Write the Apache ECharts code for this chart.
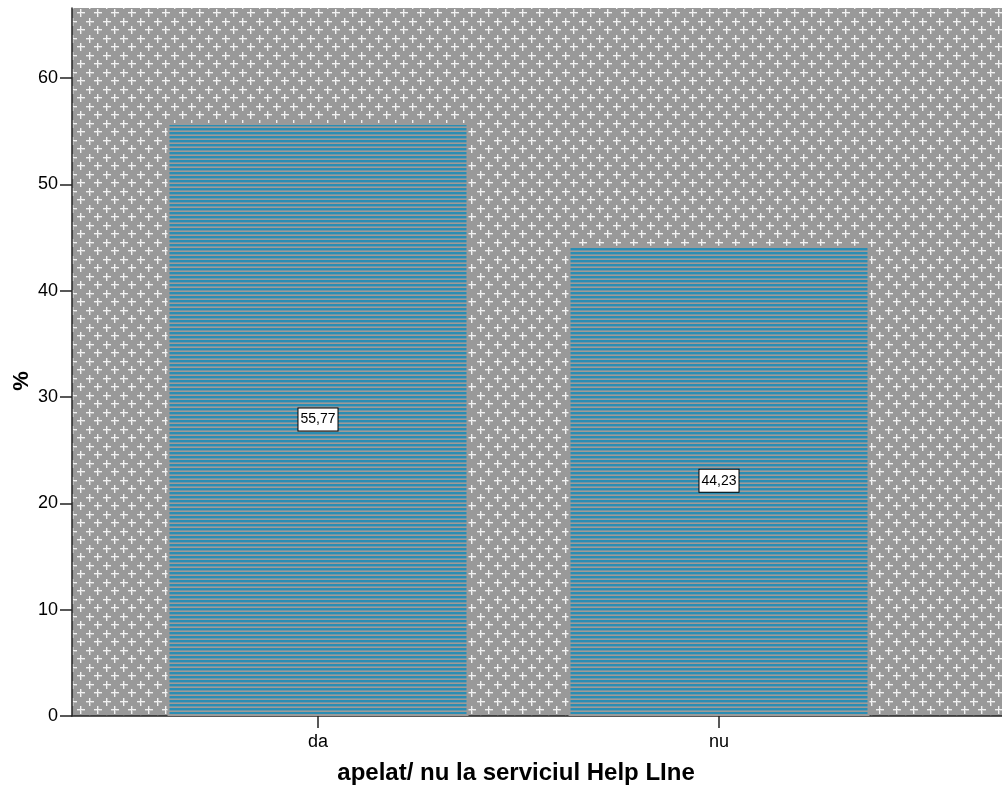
<!DOCTYPE html>
<html>
<head>
<meta charset="utf-8">
<script src="https://cdn.jsdelivr.net/npm/echarts@6/dist/echarts.min.js"></script>
<style>
html,body{margin:0;padding:0;background:#fff;}
#chart{width:1002px;height:791px;}
</style>
</head>
<body>
<div id="chart"></div>
<script>
// ---- data ----
var categories = ['da', 'nu'];
var percentValues = [55.77, 44.23];
var yTickValues = [0, 10, 20, 30, 40, 50, 60];
var xAxisTitle = 'apelat/ nu la serviciul Help LIne';
var yAxisTitle = '%';

// ---- patterns ----
function makeBgPattern() {
  var c = document.createElement('canvas');
  c.width = 17; c.height = 17;
  var g = c.getContext('2d');
  g.fillStyle = '#999999';
  g.fillRect(0, 0, 17, 17);
  function cross(x, y) {
    g.fillStyle = '#bdbdbd';
    g.fillRect(x - 3, y + 1, 8, 1);
    g.fillRect(x + 1, y - 3, 1, 8);
    g.fillStyle = '#f2f2f2';
    g.fillRect(x - 3, y, 8, 1);
    g.fillRect(x, y - 3, 1, 8);
  }
  cross(4, 4);
  cross(12, 12);
  return c;
}
function makeBarPattern() {
  var c = document.createElement('canvas');
  c.width = 8; c.height = 4;
  var g = c.getContext('2d');
  g.fillStyle = '#2b8db3';
  g.fillRect(0, 0, 8, 4);
  g.fillStyle = '#a09a96';
  g.fillRect(0, 3, 8, 1);
  g.fillStyle = '#6f96a6';
  g.fillRect(0, 2, 8, 1);
  return c;
}

var chart = echarts.init(document.getElementById('chart'));
var barData = categories.map(function (c, i) { return [i, percentValues[i]]; });

var option = {
  animation: false,
  backgroundColor: '#ffffff',
  grid: {
    left: 72, top: 8, right: 0, bottom: 75,
    show: true,
    backgroundColor: { image: makeBgPattern(), repeat: 'repeat' },
    borderWidth: 0
  },
  xAxis: {
    type: 'value',
    min: -246 / 401,
    max: 1 + 283 / 401,
    splitLine: { show: false },
    axisLine: { show: true, onZero: false, lineStyle: { color: '#222', width: 1.5 } },
    axisTick: { show: true, length: 12, customValues: [0, 1], lineStyle: { color: '#222', width: 1.5 } },
    axisLabel: {
      customValues: [0, 1],
      formatter: function (v) { return categories[Math.round(v)] || ''; },
      fontFamily: 'Liberation Sans, Arial, sans-serif',
      fontSize: 18, color: '#000', margin: 17
    }
  },
  yAxis: {
    type: 'value',
    min: 0,
    max: 708 / (638 / 60),
    splitLine: { show: false },
    axisLine: { show: true, onZero: false, lineStyle: { color: '#222', width: 1.5 } },
    axisTick: { show: true, length: 12, customValues: yTickValues, lineStyle: { color: '#222', width: 1.5 } },
    axisLabel: {
      customValues: yTickValues,
      fontFamily: 'Liberation Sans, Arial, sans-serif',
      fontSize: 18, color: '#000', margin: 14
    }
  },
  series: [{
    type: 'bar',
    data: barData,
    barWidth: 301,
    itemStyle: {
      color: { image: makeBarPattern(), repeat: 'repeat' },
      borderColor: '#9a9a9a',
      borderWidth: 2
    },
    label: {
      show: true,
      position: 'inside',
      formatter: function (p) { return p.value[1].toFixed(2).replace('.', ','); },
      fontFamily: 'Liberation Sans, Arial, sans-serif',
      fontSize: 14,
      color: '#000',
      backgroundColor: '#ffffff',
      borderColor: '#000',
      borderWidth: 1,
      padding: [5, 2, 3, 2]
    }
  }],
  graphic: [
    {
      type: 'text',
      x: 516, y: 773,
      style: {
        text: xAxisTitle,
        font: 'bold 24px "Liberation Sans", Arial, sans-serif',
        fill: '#000',
        align: 'center',
        verticalAlign: 'middle'
      }
    },
    {
      type: 'text',
      x: 22, y: 381,
      rotation: Math.PI / 2,
      style: {
        text: yAxisTitle,
        font: 'bold 22px "Liberation Sans", Arial, sans-serif',
        fill: '#000',
        align: 'center',
        verticalAlign: 'middle'
      }
    }
  ]
};
chart.setOption(option);
</script>
</body>
</html>
